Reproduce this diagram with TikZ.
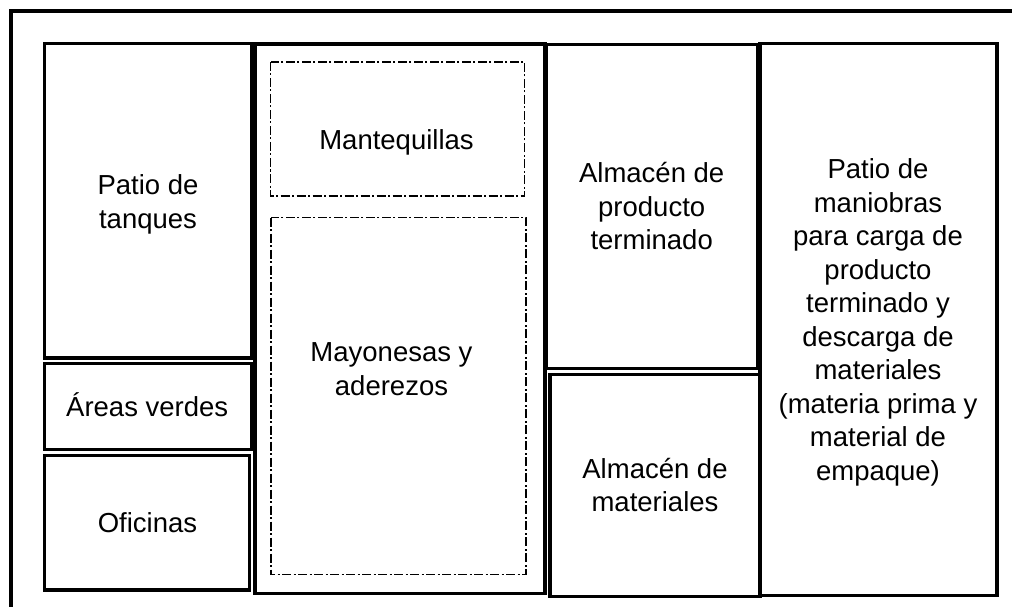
\documentclass[tikz,border=0pt]{standalone}
\usepackage{fontspec}
\setmainfont{Liberation Sans}

\begin{document}
\begin{tikzpicture}[x = 1pt, y = -1pt,
                    wall/.style  = {line width=3.3pt},
                    zone/.style  = {line width=1.1pt,
                                    dash pattern=on 9pt off 2.5pt on 2pt off 2.5pt},
                    label/.style = {font=\fontsize{27.5}{33.5}\selectfont,
                                    align=center, inner sep=0pt}]
\useasboundingbox (0,0) rectangle (1012,607);
\clip (0,0) rectangle (1012,607);

% terreno
\draw[line width=4.5pt] (11,650) -- (11,11) -- (1050,11);

% columna izquierda
\draw[wall] (44.5,43.7) rectangle (251.7,358);
\draw[wall] (44.7,363.3) rectangle (251.5,449.5);
\draw[wall] (44.7,455.3) rectangle (249.5,590);

% produccion
\draw[wall] (255,44) rectangle (545,593.5);
\draw[zone] (270.5,62) rectangle (524.5,196);
\draw[zone] (271,217.5) rectangle (526,574.3);

% almacenes
\draw[wall] (546.5,44.3) rectangle (757.5,368.5);
\draw[wall] (550,374.3) rectangle (760,596.3);

% maniobras
\draw[wall] (760,43.7) rectangle (997,595.7);

\node[label] (tanques)    at (148,204.6)        {Patio de\\tanques};
\node[label, anchor=base] (verdes)   at (147.2,416.7) {Áreas verdes};
\node[label, anchor=base] (oficinas) at (147.5,532.7) {Oficinas};
\node[label, anchor=base] (mantequillas) at (396.5,149.3) {Mantequillas};
\node[label] (mayonesas)  at (391.5,369)        {Mayonesas y\\aderezos};
\node[label] (terminado)  at (651.7,206.5)      {Almacén de\\producto\\terminado};
\node[label] (materiales) at (655,484.9)        {Almacén de\\materiales};
\node[label] (maniobras)  at (878,322.2)        {Patio de\\maniobras\\para carga de\\producto\\terminado y\\descarga de\\materiales\\(materia prima y\\material de\\empaque)};

\end{tikzpicture}
\end{document}
